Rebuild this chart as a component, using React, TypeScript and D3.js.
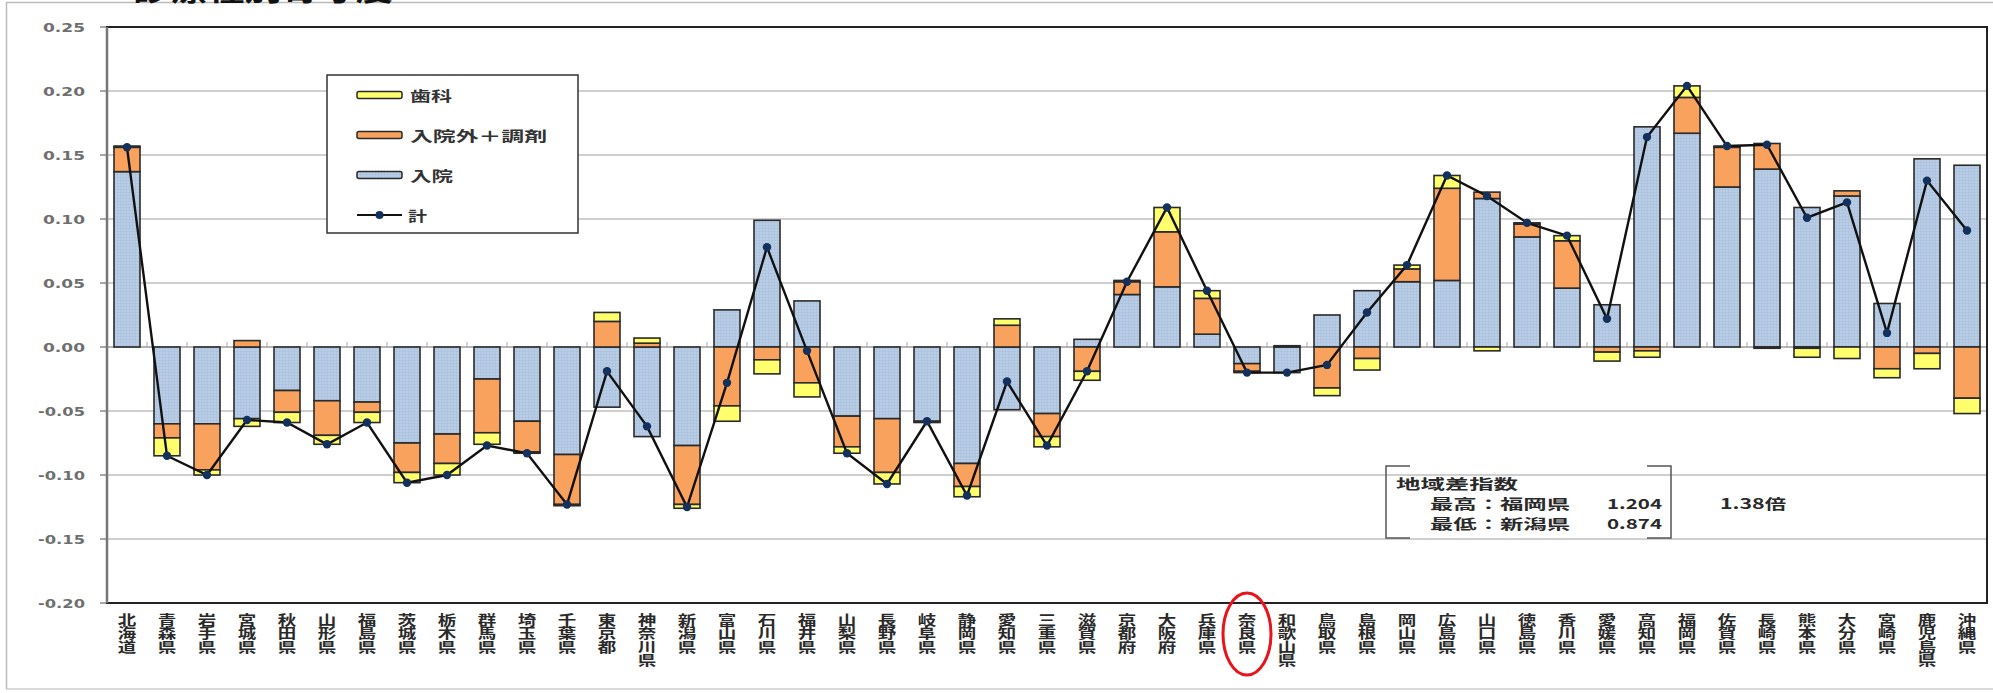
import React, { useRef, useEffect } from 'react';
import * as d3 from 'd3';

// 都道府県
const prefectures = [
  '北海道', '青森県', '岩手県', '宮城県', '秋田県', '山形県', '福島県', '茨城県', '栃木県', '群馬県',
  '埼玉県', '千葉県', '東京都', '神奈川県', '新潟県', '富山県', '石川県', '福井県', '山梨県', '長野県',
  '岐阜県', '静岡県', '愛知県', '三重県', '滋賀県', '京都府', '大阪府', '兵庫県', '奈良県', '和歌山県',
  '鳥取県', '島根県', '岡山県', '広島県', '山口県', '徳島県', '香川県', '愛媛県', '高知県', '福岡県',
  '佐賀県', '長崎県', '熊本県', '大分県', '宮崎県', '鹿児島県', '沖縄県'
];

// 入院
const inpatient = [
  0.137, -0.060, -0.060, -0.056, -0.034, -0.042, -0.043, -0.075, -0.068, -0.025,
  -0.058, -0.084, -0.047, -0.070, -0.077, 0.029, 0.099, 0.036, -0.054, -0.056,
  -0.058, -0.091, -0.049, -0.052, 0.006, 0.041, 0.047, 0.010, -0.013, -0.020,
  0.025, 0.044, 0.051, 0.052, 0.116, 0.086, 0.046, 0.033, 0.172, 0.167,
  0.125, 0.139, 0.109, 0.118, 0.034, 0.147, 0.142
];

// 入院外＋調剤
const outpatient = [
  0.019, -0.011, -0.036, 0.005, -0.017, -0.027, -0.008, -0.023, -0.023, -0.042,
  -0.024, -0.039, 0.020, 0.003, -0.046, -0.046, -0.010, -0.028, -0.024, -0.042,
  -0.001, -0.018, 0.017, -0.018, -0.019, 0.010, 0.043, 0.028, -0.006, 0.001,
  -0.032, -0.009, 0.010, 0.072, 0.005, 0.010, 0.037, -0.004, -0.003, 0.028,
  0.031, 0.020, -0.001, 0.004, -0.017, -0.005, -0.040
];

// 歯科
const dental = [
  0.001, -0.014, -0.004, -0.006, -0.008, -0.007, -0.008, -0.008, -0.009, -0.009,
  -0.001, -0.001, 0.007, 0.004, -0.003, -0.012, -0.011, -0.011, -0.005, -0.009,
  0.000, -0.008, 0.005, -0.008, -0.007, 0.001, 0.019, 0.006, -0.001, 0.000,
  -0.006, -0.009, 0.003, 0.010, -0.003, 0.001, 0.004, -0.007, -0.005, 0.009,
  0.001, -0.001, -0.007, -0.009, -0.007, -0.012, -0.012
];

// 計
const total = [
  0.156, -0.085, -0.100, -0.057, -0.059, -0.076, -0.059, -0.106, -0.100, -0.077,
  -0.083, -0.123, -0.019, -0.062, -0.125, -0.028, 0.078, -0.003, -0.083, -0.107,
  -0.058, -0.116, -0.027, -0.077, -0.019, 0.051, 0.109, 0.044, -0.020, -0.020,
  -0.014, 0.027, 0.064, 0.134, 0.118, 0.097, 0.087, 0.022, 0.164, 0.204,
  0.157, 0.158, 0.101, 0.113, 0.011, 0.130, 0.091
];

const yTicks = [0.25, 0.20, 0.15, 0.10, 0.05, 0.00, -0.05, -0.10, -0.15, -0.20];

const seriesKeys = ['inpatient', 'outpatient', 'dental'];
const seriesNames = { inpatient: '入院', outpatient: '入院外＋調剤', dental: '歯科' };

const CJK = '"Noto Sans CJK JP", "Noto Sans", sans-serif';
const LATIN = '"DejaVu Sans", "Liberation Sans", sans-serif';

const App = () => {
  const chartRef = useRef(null);

  useEffect(() => {
    const svg = d3.select(chartRef.current);
    svg.selectAll('*').remove();

    const W = 1993, H = 693;
    const left = 107, right = 1987, top = 27, bottom = 603;

    const table = prefectures.map((name, i) => ({
      name,
      inpatient: inpatient[i],
      outpatient: outpatient[i],
      dental: dental[i],
      total: total[i]
    }));

    // category centres, 40px apart
    const x = d3.scalePoint().domain(prefectures).range([left, right]).padding(0.5);
    const step = x.step();
    const barW = 26;

    const y = d3.scaleLinear().domain([-0.2, 0.25]).range([bottom, top]);

    const colors = { inpatient: 'url(#inpat)', outpatient: '#f9a25e', dental: '#ffff6e' };

    // patterns
    const defs = svg.append('defs');
    const pat = defs.append('pattern')
      .attr('id', 'inpat')
      .attr('patternUnits', 'userSpaceOnUse')
      .attr('width', 3).attr('height', 3);
    pat.append('rect').attr('width', 3).attr('height', 3).attr('fill', '#b9cde6');
    pat.append('path').attr('d', 'M0,0.5H3M0.5,0V3').attr('stroke', '#a8bfdc').attr('stroke-width', 0.6);

    svg.append('rect').attr('width', W).attr('height', H).attr('fill', '#fff');

    // outer frame lines
    svg.append('line').attr('x1', 6).attr('x2', W).attr('y1', 2.5).attr('y2', 2.5)
      .attr('stroke', '#bbb').attr('stroke-width', 1.5);
    svg.append('line').attr('x1', 6.5).attr('x2', 6.5).attr('y1', 2).attr('y2', 689)
      .attr('stroke', '#bbb').attr('stroke-width', 1.5);
    svg.append('line').attr('x1', 6).attr('x2', W).attr('y1', 689).attr('y2', 689)
      .attr('stroke', '#ccc').attr('stroke-width', 1.5);

    // title (cut at the top, only its lower edge shows)
    svg.append('text')
      .attr('x', 133).attr('y', 0)
      .attr('font-family', CJK).attr('font-weight', 'bold').attr('font-size', 30)
      .attr('textLength', 260).attr('lengthAdjust', 'spacingAndGlyphs')
      .attr('fill', '#111')
      .text('診療種別寄与度');

    // grid lines
    svg.append('g').selectAll('line')
      .data(yTicks.filter(t => t > -0.2 && t < 0.25))
      .join('line')
      .attr('x1', left).attr('x2', right)
      .attr('y1', d => y(d)).attr('y2', d => y(d))
      .attr('stroke', d => d === 0 ? '#b5b5b5' : '#cfcfcf')
      .attr('stroke-width', 2);

    // y tick labels
    svg.append('g').selectAll('text')
      .data(yTicks)
      .join('text')
      .attr('x', 85).attr('y', d => y(d) + 5)
      .attr('text-anchor', 'end')
      .attr('font-family', LATIN).attr('font-weight', 'bold').attr('font-size', 13)
      .attr('fill', '#6f6f6f')
      .attr('textLength', d => d < 0 ? 47 : 42).attr('lengthAdjust', 'spacingAndGlyphs')
      .text(d => d < 0 ? '-' + Math.abs(d).toFixed(2) : d.toFixed(2));

    svg.append('g').selectAll('line')
      .data(yTicks)
      .join('line')
      .attr('x1', 100).attr('x2', left)
      .attr('y1', d => y(d)).attr('y2', d => y(d))
      .attr('stroke', '#888').attr('stroke-width', 1.5);

    // small category ticks on zero line
    svg.append('g').selectAll('line')
      .data(prefectures.slice(1))
      .join('line')
      .attr('x1', d => x(d) - step / 2).attr('x2', d => x(d) - step / 2)
      .attr('y1', y(0) - 5).attr('y2', y(0) + 1)
      .attr('stroke', '#aaa').attr('stroke-width', 1);

    // stacked bars
    const stack = d3.stack().keys(seriesKeys).offset(d3.stackOffsetDiverging);
    const stacked = stack(table);

    stacked.forEach(layer => {
      svg.append('g').selectAll('rect')
        .data(layer.filter(d => Math.abs(d[1] - d[0]) > 0.0002))
        .join('rect')
        .attr('x', d => x(d.data.name) - barW / 2)
        .attr('width', barW)
        .attr('y', d => y(Math.max(d[0], d[1])))
        .attr('height', d => Math.abs(y(d[0]) - y(d[1])))
        .attr('fill', colors[layer.key])
        .attr('stroke', '#2a2a2a')
        .attr('stroke-width', 1.6);
    });

    // plot frame
    svg.append('rect')
      .attr('x', left).attr('y', top)
      .attr('width', right - left).attr('height', bottom - top)
      .attr('fill', 'none').attr('stroke', '#222').attr('stroke-width', 2);
    svg.append('line').attr('x1', left).attr('x2', left).attr('y1', top).attr('y2', bottom)
      .attr('stroke', '#777').attr('stroke-width', 2.5);

    // total line
    const line = d3.line()
      .x(d => x(d.name))
      .y(d => y(d.total));
    svg.append('path')
      .datum(table)
      .attr('fill', 'none')
      .attr('stroke', '#111')
      .attr('stroke-width', 2.4)
      .attr('d', line);
    svg.append('g').selectAll('circle')
      .data(table)
      .join('circle')
      .attr('cx', d => x(d.name))
      .attr('cy', d => y(d.total))
      .attr('r', 4.2)
      .attr('fill', '#14305c');

    // x labels, written vertically and stretched sideways
    svg.append('g').selectAll('g')
      .data(prefectures)
      .join('g')
      .attr('transform', d => `translate(${x(d)},0) scale(1.38,1)`)
      .append('text')
      .attr('x', 0).attr('y', 613)
      .attr('writing-mode', 'vertical-rl')
      .attr('font-family', CJK).attr('font-weight', 'bold').attr('font-size', 13.4)
      .attr('fill', '#2a2a2a')
      .text(d => d);

    // highlight 奈良県
    svg.append('ellipse')
      .attr('cx', x('奈良県')).attr('cy', 634)
      .attr('rx', 24).attr('ry', 41)
      .attr('fill', 'none').attr('stroke', '#e8141a').attr('stroke-width', 3);

    // legend
    const lg = svg.append('g');
    lg.append('rect')
      .attr('x', 327).attr('y', 75).attr('width', 251).attr('height', 158)
      .attr('fill', '#fff').attr('stroke', '#333').attr('stroke-width', 1.5);
    const legendItems = ['dental', 'outpatient', 'inpatient'];
    const legendWidths = { dental: 42, outpatient: 137, inpatient: 43 };
    legendItems.forEach((k, i) => {
      const ly = 95 + i * 40;
      lg.append('rect')
        .attr('x', 357).attr('y', ly - 3.5).attr('width', 45).attr('height', 7).attr('rx', 2)
        .attr('fill', colors[k]).attr('stroke', '#2a2a2a').attr('stroke-width', 1.5);
      lg.append('text')
        .attr('x', 410).attr('y', ly + 5.5)
        .attr('font-family', CJK).attr('font-weight', 'bold').attr('font-size', 14)
        .attr('fill', '#333')
        .attr('textLength', legendWidths[k]).attr('lengthAdjust', 'spacingAndGlyphs')
        .text(seriesNames[k]);
    });
    lg.append('line').attr('x1', 357).attr('x2', 402).attr('y1', 215).attr('y2', 215)
      .attr('stroke', '#111').attr('stroke-width', 2);
    lg.append('circle').attr('cx', 379.5).attr('cy', 215).attr('r', 4).attr('fill', '#14305c');
    lg.append('text')
      .attr('x', 408).attr('y', 220.5)
      .attr('font-family', CJK).attr('font-weight', 'bold').attr('font-size', 14)
      .attr('fill', '#333')
      .attr('textLength', 19).attr('lengthAdjust', 'spacingAndGlyphs')
      .text('計');

    // 地域差指数 annotation
    const an = svg.append('g');
    an.append('path')
      .attr('d', 'M1410,466H1386V538H1410M1647,466H1671V538H1647')
      .attr('fill', 'none').attr('stroke', '#555').attr('stroke-width', 1.5);
    const annText = (str, ax, ay, len, anchor = 'start') => an.append('text')
      .attr('x', ax).attr('y', ay)
      .attr('text-anchor', anchor)
      .attr('font-family', CJK).attr('font-weight', 'bold').attr('font-size', 14)
      .attr('fill', '#2a2a2a')
      .attr('textLength', len).attr('lengthAdjust', 'spacingAndGlyphs')
      .text(str);
    annText('地域差指数', 1396, 489, 122);
    annText('最高：福岡県', 1430, 509, 140);
    annText('最低：新潟県', 1430, 529, 140);
    annText('1.204', 1662, 509, 55, 'end');
    annText('0.874', 1662, 529, 55, 'end');
    annText('1.38倍', 1720, 509, 66);
  }, []);

  return (
    <svg
      ref={chartRef}
      width={1993}
      height={693}
      style={{ position: 'absolute', left: 0, top: 0, display: 'block' }}
    />
  );
};

export default App;
